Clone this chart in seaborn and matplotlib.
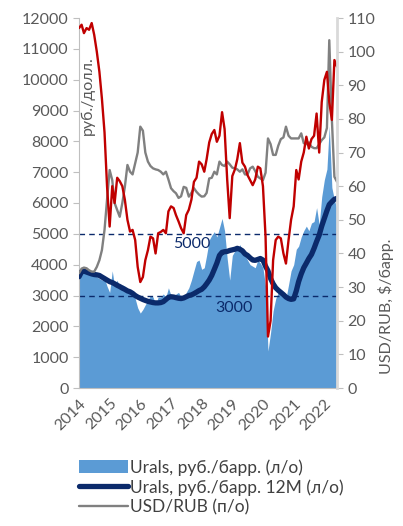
"""
Urals в рублях и долларах, курс USD/RUB (2014-2022)
"""

import pandas as pd
import matplotlib
matplotlib.use("Agg")
import matplotlib.pyplot as plt
import seaborn as sns

# ─────────────────────────────────────────────
# DATA (monthly, Jan 2014 - Jun 2022)
# ─────────────────────────────────────────────
MONTHS = pd.date_range("2014-01-01", periods=102, freq="MS")

# Urals, руб./барр. (левая ось)
URALS_RUB = [
    3600, 3850, 3900, 3750, 3700, 3750, 3650, 3600, 3550, 3500, 3550, 3300,   # 2014
    3100, 3800, 3300, 3500, 3250, 3350, 3300, 3150, 3050, 3100, 2900, 2600,   # 2015
    2430, 2550, 2700, 2850, 3000, 2950, 2700, 2950, 2950, 3050, 2950, 3250,   # 2016
    3000, 2950, 3050, 3100, 2950, 2900, 3100, 3250, 3500, 3800, 4100, 4150,   # 2017
    3850, 3900, 4300, 4800, 4950, 5070, 4900, 5200, 5500, 5100, 4200, 3500,   # 2018
    4300, 4450, 4500, 4650, 4450, 4300, 4150, 4000, 3950, 3900, 4150, 4050,   # 2019
    3900, 3300, 1200, 1800, 2500, 2900, 3100, 3200, 3100, 2900, 3350, 3800,   # 2020
    4000, 4500, 4600, 4900, 5100, 5250, 5100, 5350, 5400, 5850, 5300, 6200,   # 2021
    6750, 7100, 8500, 6500, 6100, 5800,                                       # 2022
]

# Urals, руб./барр. 12M (левая ось)
URALS_RUB_12M = [
    3610, 3770, 3790, 3760, 3730, 3700, 3680, 3670, 3650, 3600, 3550, 3500,
    3450, 3420, 3380, 3330, 3290, 3240, 3200, 3150, 3120, 3070, 3000, 2950,
    2910, 2870, 2840, 2810, 2790, 2770, 2760, 2760, 2770, 2800, 2870, 2940,
    2960, 2950, 2930, 2910, 2900, 2920, 2960, 3000, 3020, 3060, 3110, 3160,
    3200, 3280, 3380, 3500, 3650, 3850, 4050, 4300, 4400, 4420, 4430, 4460,
    4480, 4500, 4530, 4500, 4450, 4350, 4300, 4220, 4150, 4140, 4170, 4200,
    4150, 3950, 3800, 3550, 3380, 3250, 3170, 3100, 3030, 2950, 2900, 2875,
    2890, 3150, 3450, 3700, 3900, 4050, 4200, 4330, 4530, 4750, 4960, 5250,
    5500, 5750, 5950, 6040, 6120, 6150,
]

# USD/RUB (правая ось)
USD_RUB = [
    34.1, 35.5, 35.8, 35.6, 35.0, 34.6, 34.6, 36.0, 38.0, 41.0, 47.0, 56.0,
    64.8, 61.8, 55.0, 52.9, 50.9, 55.0, 59.8, 66.3, 64.3, 63.5, 66.8, 70.0,
    77.7, 76.5, 70.0, 67.3, 66.0, 65.3, 65.0, 64.8, 64.3, 63.5, 64.3, 62.0,
    59.4, 58.5, 57.9, 56.5, 57.0, 59.8, 59.5, 56.9, 58.0, 59.4, 58.3, 57.5,
    56.9, 57.0, 58.0, 62.3, 62.5, 64.3, 63.5, 67.3, 66.3, 66.0, 67.3, 66.5,
    65.5, 65.3, 65.0, 64.3, 65.0, 63.5, 63.5, 65.3, 65.8, 64.5, 62.8, 62.3,
    61.8, 64.0, 74.2, 72.5, 69.3, 69.3, 72.0, 74.0, 74.5, 77.7, 75.0, 74.2,
    74.2, 74.2, 74.2, 75.7, 72.8, 72.5, 73.0, 71.7, 71.3, 71.3, 72.5, 73.7,
    74.5, 77.3, 103.4, 79.7, 62.8, 61.3,
]

# Urals, $/барр. (правая ось)
URALS_USD = [
    107.0, 108.0, 105.5, 107.0, 106.5, 108.5, 105.0, 100.0, 94.0, 86.0, 76.0, 60.0,
    48.0, 60.0, 55.0, 62.5, 61.5, 60.0, 56.0, 50.0, 46.5, 47.0, 44.0, 36.0,
    31.5, 33.0, 38.0, 41.0, 45.0, 44.5, 40.0, 46.0, 46.4, 47.0, 46.0, 52.5,
    54.0, 53.5, 51.4, 49.5, 47.5, 46.0, 51.4, 53.0, 56.0, 61.3, 62.5, 67.3,
    66.5, 64.3, 68.0, 73.0, 75.5, 76.7, 73.2, 75.0, 82.0, 77.0, 62.0, 50.5,
    63.0, 65.0, 68.0, 72.8, 67.0, 65.8, 63.3, 61.8, 60.3, 62.0, 65.8, 65.3,
    60.0, 45.0, 15.3, 20.0, 38.0, 44.0, 45.0, 44.5, 40.0, 37.0, 44.0, 50.0,
    54.0, 64.8, 62.0, 67.3, 70.0, 74.7, 71.2, 74.0, 75.0, 81.6, 70.0, 85.0,
    91.6, 94.0, 85.0, 79.7, 97.5, 95.5,
]

YEARS        = list(range(2014, 2023))
LEFT_TICKS   = list(range(0, 12001, 1000))
RIGHT_TICKS  = list(range(0, 111, 10))
LEVELS       = [5000, 3000]

LABEL_AREA  = "Urals, руб./барр. (л/о)"
LABEL_12M   = "Urals, руб./барр. 12M (л/о)"
LABEL_USD   = "USD/RUB (п/о)"

# ─────────────────────────────────────────────
# STYLE
# ─────────────────────────────────────────────
C_AREA  = "#5B9BD5"
C_NAVY  = "#0B2A6B"
C_RED   = "#C00000"
C_GRAY  = "#808080"
C_TEXT  = "#595959"
C_AXIS  = "#BFBFBF"
FS      = 11.5


def draw():
    sns.set_style("white")
    plt.rcParams["font.family"] = ["Lato", "DejaVu Sans"]

    df = pd.DataFrame({
        "date": MONTHS,
        "rub": URALS_RUB,
        "rub12": URALS_RUB_12M,
        "usdrub": USD_RUB,
        "usd": URALS_USD,
    })

    fig = plt.figure(figsize=(4.03, 5.26), dpi=100)
    ax = fig.add_axes([79 / 403, 1 - 388 / 526, 258 / 403, 370 / 526])
    ax2 = ax.twinx()

    # left axis: area + 12M line
    ax.fill_between(df["date"], 0, df["rub"], color=C_AREA, lw=0, zorder=1,
                    label=LABEL_AREA)
    for lvl in LEVELS:
        ax.axhline(lvl, color=C_NAVY, lw=1, ls=(0, (4, 3)), zorder=2)
    sns.lineplot(data=df, x="date", y="rub12", ax=ax, color=C_NAVY, lw=3.8,
                 zorder=3, label=LABEL_12M, legend=False)

    ax.text(pd.Timestamp("2017-09-01"), 4660, "5000", color=C_NAVY,
            fontsize=FS, ha="center", va="center")
    ax.text(pd.Timestamp("2019-01-20"), 2600, "3000", color=C_NAVY,
            fontsize=FS, ha="center", va="center")

    # right axis: USD/RUB + Urals $
    sns.lineplot(data=df, x="date", y="usdrub", ax=ax2, color=C_GRAY, lw=1.7,
                 label=LABEL_USD, legend=False)
    sns.lineplot(data=df, x="date", y="usd", ax=ax2, color=C_RED, lw=1.7,
                 legend=False)

    ax.set_xlim(MONTHS[0], MONTHS[-1])
    ax.set_ylim(0, 12000)
    ax2.set_ylim(0, 110)
    ax.set_yticks(LEFT_TICKS)
    ax2.set_yticks(RIGHT_TICKS)
    ax.set_xticks([pd.Timestamp(f"{y}-01-01") for y in YEARS])
    ax.set_xticklabels([str(y) for y in YEARS], rotation=45, ha="right",
                       rotation_mode="anchor")
    ax.set_xlabel("")
    ax.set_ylabel("")
    ax2.set_ylabel("")

    for a in (ax, ax2):
        a.tick_params(labelsize=FS, colors=C_TEXT, length=4, width=0.8,
                      color=C_AXIS)
        for s in a.spines.values():
            s.set_visible(False)
    ax.tick_params(axis="x", length=4, pad=2)
    ax.tick_params(axis="y", left=True)
    ax2.tick_params(axis="y", right=True)
    ax.spines["left"].set_visible(True)
    ax.spines["left"].set_color(C_AXIS)
    ax.spines["bottom"].set_visible(True)
    ax.spines["bottom"].set_color(C_AXIS)
    ax2.spines["right"].set_visible(True)
    ax2.spines["right"].set_color("#D9D9D9")
    ax2.spines["right"].set_linewidth(2)

    ax.text(0.035, 0.79, "руб./долл.", transform=ax.transAxes, rotation=90,
            ha="center", va="center", color=C_TEXT, fontsize=FS)
    fig.text(386 / 403, 1 - 306 / 526, "USD/RUB, $/барр.", rotation=90,
             ha="center", va="center", color=C_TEXT, fontsize=FS)

    # legend below the chart
    h1, l1 = ax.get_legend_handles_labels()
    h2, l2 = ax2.get_legend_handles_labels()
    handles = dict(zip(l1 + l2, h1 + h2))
    order = [LABEL_AREA, LABEL_12M, LABEL_USD]
    leg = fig.legend([handles[k] for k in order], order, loc="upper left",
                     bbox_to_anchor=(72 / 403, 1 - 452 / 526), frameon=False,
                     fontsize=12.5, handlelength=2.8, handletextpad=0.15,
                     labelspacing=0.2, borderaxespad=0)
    for t in leg.get_texts():
        t.set_color("#404040")

    fig.savefig("out.png", dpi=100)
    plt.close(fig)


if __name__ == "__main__":
    draw()
